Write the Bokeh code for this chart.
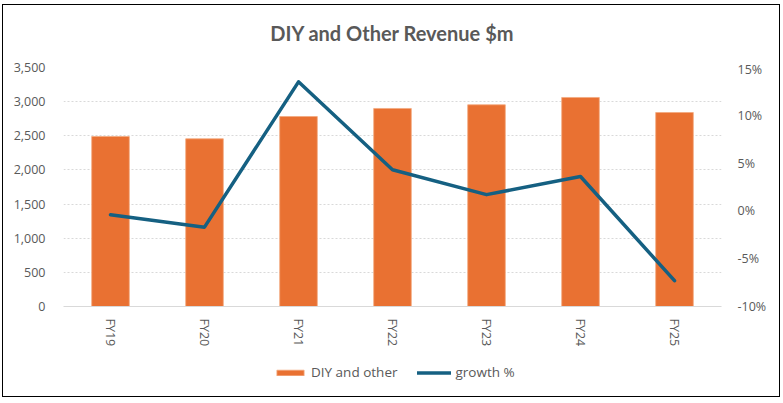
from bokeh.plotting import figure
from bokeh.layouts import column
from bokeh.models import (Range1d, LinearAxis, NumeralTickFormatter, FixedTicker, FactorRange,
                          Legend, LegendItem, ColumnDataSource, InlineStyleSheet, Label)
from bokeh.embed import file_html
from bokeh.resources import INLINE

# ---- data ----
years = ["FY19", "FY20", "FY21", "FY22", "FY23", "FY24", "FY25"]
revenue = [2490, 2456, 2782, 2900, 2954, 3061, 2841]
growth = [-0.004, -0.017, 0.135, 0.043, 0.017, 0.036, -0.073]
left_ticks = [0, 500, 1000, 1500, 2000, 2500, 3000, 3500]
right_ticks = [-0.10, -0.05, 0.0, 0.05, 0.10, 0.15]
title_text = "DIY and Other Revenue $m"
bar_label = "DIY and other"
line_label = "growth %"

BAR = "#E97132"
BAR_EDGE = "#F2A97F"
LINE = "#156082"
TXT = "#595959"
GRID = "#D9D9D9"
FONT = "Open Sans"
W = 776

src = ColumnDataSource(dict(years=years, revenue=revenue, growth=growth))

# ---- title strip ----
pt = figure(width=W, height=55, output_backend="svg", toolbar_location=None,
            x_range=Range1d(0, 1), y_range=Range1d(0, 1),
            x_axis_type=None, y_axis_type=None, min_border=0)
pt.outline_line_color = None
pt.xgrid.grid_line_color = None
pt.ygrid.grid_line_color = None
pt.add_layout(Label(x=0.5, y=0.5, text=title_text, text_align="center", text_baseline="middle",
                    text_font="Lato", text_font_style="bold", text_font_size="20px",
                    text_color=TXT))

# ---- main chart ----
p = figure(x_range=years, y_range=Range1d(0, 3500), width=W, height=296,
           output_backend="svg", toolbar_location=None,
           min_border_left=60, min_border_right=58, min_border_top=7, min_border_bottom=50)
p.outline_line_color = None

p.extra_y_ranges = {"growth": Range1d(-0.10, 0.15)}

bars = p.vbar(x="years", top="revenue", width=0.4, source=src, fill_color=BAR,
              line_color=BAR_EDGE, line_width=0.8)
line = p.line(x="years", y="growth", y_range_name="growth", source=src,
              line_color=LINE, line_width=3.5, line_join="round", line_cap="round")

# left axis
ya = p.yaxis[0]
ya.ticker = FixedTicker(ticks=left_ticks)
ya.formatter = NumeralTickFormatter(format="0,0")
ya.axis_line_color = None
ya.major_tick_line_color = None
ya.minor_tick_line_color = None
ya.major_label_text_color = TXT
ya.major_label_text_font = FONT
ya.major_label_text_font_size = "12.5px"
ya.major_label_standoff = 12

# right axis
ra = LinearAxis(y_range_name="growth", ticker=FixedTicker(ticks=right_ticks),
                formatter=NumeralTickFormatter(format="0%"))
ra.axis_line_color = None
ra.major_tick_line_color = None
ra.minor_tick_line_color = None
ra.major_label_text_color = TXT
ra.major_label_text_font = FONT
ra.major_label_text_font_size = "12.5px"
ra.major_label_standoff = 10
p.add_layout(ra, "right")

# x axis
xa = p.xaxis[0]
xa.axis_line_color = GRID
xa.axis_line_width = 1
xa.major_tick_line_color = None
xa.minor_tick_line_color = None
xa.major_label_orientation = -1.5708
xa.major_label_text_color = TXT
xa.major_label_text_font = FONT
xa.major_label_text_font_size = "12.5px"
xa.major_label_standoff = 6

p.xgrid.grid_line_color = None
p.ygrid.ticker = FixedTicker(ticks=left_ticks)
p.ygrid.grid_line_color = GRID
p.ygrid.grid_line_dash = "2 2"
p.ygrid.grid_line_width = 1

# ---- legend strip (its glyphs lie below the strip's visible range) ----
pl = figure(width=W, height=40, output_backend="svg", toolbar_location=None,
            x_range=FactorRange(factors=years), y_range=Range1d(5000, 6000),
            x_axis_type=None, y_axis_type=None, min_border=0)
pl.outline_line_color = None
pl.xgrid.grid_line_color = None
pl.ygrid.grid_line_color = None
lb = pl.vbar(x="years", top="revenue", width=0.4, source=src, fill_color=BAR,
             line_color=BAR_EDGE, line_width=0.8)
ll = pl.line(x="years", y="growth", source=src, line_color=LINE, line_width=3.5,
             line_cap="round")

legend = Legend(items=[LegendItem(label=bar_label, renderers=[lb]),
                       LegendItem(label=line_label, renderers=[ll])],
                orientation="horizontal", location=(210, 15),
                border_line_color=None, background_fill_color=None, background_fill_alpha=0,
                label_text_font=FONT, label_text_font_size="13.5px", label_text_color=TXT,
                glyph_width=34, glyph_height=7, label_standoff=4, spacing=20,
                padding=0, margin=0)
pl.add_layout(legend, "center")

border = InlineStyleSheet(css=":host { border: 1.5px solid #000; margin: 4px 0 0 2px; }")
layout = column(pt, p, pl, spacing=0, stylesheets=[border])

open("out.html", "w").write(file_html(layout, INLINE))
